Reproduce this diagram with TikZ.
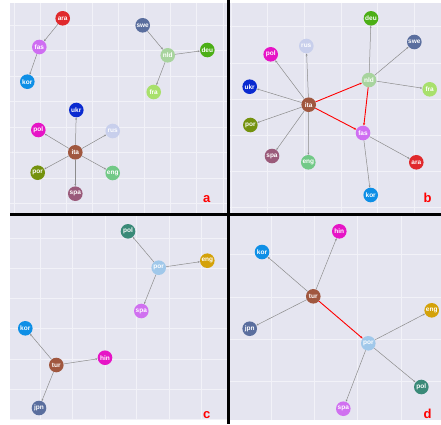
\documentclass[tikz,border=0pt]{standalone}
\usepackage{fontspec}
\setmainfont{Liberation Sans}
\usetikzlibrary{arrows.meta}
\definecolor{bgl}{HTML}{E5E5F0}
\definecolor{gridc}{HTML}{F2F2F8}
\definecolor{cara}{HTML}{E0292C}
\definecolor{cfas}{HTML}{CF6EF2}
\definecolor{ckor}{HTML}{0E8FE6}
\definecolor{cswe}{HTML}{5A6E9E}
\definecolor{cnld}{HTML}{A8D49E}
\definecolor{cdeu}{HTML}{4CAF16}
\definecolor{cfra}{HTML}{A8E06C}
\definecolor{cukr}{HTML}{0A2AD0}
\definecolor{cpol}{HTML}{E614C6}
\definecolor{crus}{HTML}{C8CFEC}
\definecolor{cita}{HTML}{A0573F}
\definecolor{cpor}{HTML}{74920E}
\definecolor{ceng}{HTML}{72C987}
\definecolor{cspa}{HTML}{9A5A7A}
\definecolor{cpolc}{HTML}{3A8A78}
\definecolor{cengc}{HTML}{D4A20A}
\definecolor{cporc}{HTML}{A0C8EA}
\definecolor{cspac}{HTML}{D070F0}
\definecolor{chin}{HTML}{E614C6}
\definecolor{ctur}{HTML}{A0573F}
\definecolor{cjpn}{HTML}{5A6E9E}
\definecolor{edgegray}{HTML}{8C8C8C}
\tikzset{
  nd/.style={circle, fill=#1, minimum size=14.6pt, inner sep=0pt, text=white,
    font=\fontsize{6.5}{6.5}\selectfont\bfseries},
  ed/.style={draw=edgegray, line width=0.5pt, -{Stealth[length=2.2pt,width=1.8pt]}},
  red/.style={draw=red, line width=0.9pt, -{Stealth[length=2.4pt,width=2pt]}},
  grd/.style={draw=gridc, line width=0.45pt},
  plabel/.style={text=red, font=\fontsize{13}{13}\selectfont\bfseries},
  bg/.style={fill=bgl, draw=none}
}
\begin{document}
\begin{tikzpicture}[x=1pt,y=-1pt]
\useasboundingbox (0,0) rectangle (441,424);
\fill[white] (0,0) rectangle (441,424);
% backgrounds
\fill[bg] (10,3) rectangle (227,213);
\fill[bg] (230,3) rectangle (441,213);
\fill[bg] (10,216) rectangle (227,420);
\fill[bg] (230,216) rectangle (441,420);
% grids panel a
\foreach \x in {14,40.1,66.2,92.3,118.4,144.5,170.6,196.7,222.8} \draw[grd] (\x,3) -- (\x,213);
\foreach \y in {25,50.5,76,101.5,127,152.5,178,203.5} \draw[grd] (10,\y) -- (227,\y);
% grids panel b
\foreach \x in {231,267.7,304.3,341,377.7,414.3} \draw[grd] (\x,3) -- (\x,213);
\foreach \y in {26.7,63.3,99.3,135,171.7,207.7} \draw[grd] (230,\y) -- (441,\y);
% grids panel c
\foreach \x in {40.7,72.7,105,136.7,169.3,201.3} \draw[grd] (\x,216) -- (\x,420);
\foreach \y in {238,268.7,298.7,328.7,359.7,389.7,419.5} \draw[grd] (10,\y) -- (227,\y);
% grids panel d
\foreach \x in {271,314.3,357.7,401} \draw[grd] (\x,216) -- (\x,420);
\foreach \y in {254.7,297,339.3,381.3} \draw[grd] (230,\y) -- (441,\y);
% separators
\draw[black, line width=2.4pt] (228.5,0) -- (228.5,424);
\draw[black, line width=2.4pt] (10,214.5) -- (441,214.5);

% ---------- panel a ----------
\node[nd=cara] (a-ara) at (62.7,18.3) {ara};
\node[nd=cfas] (a-fas) at (39.3,47) {fas};
\node[nd=ckor] (a-kor) at (27.3,81.7) {kor};
\node[nd=cswe] (a-swe) at (142.7,25.3) {swe};
\node[nd=cnld] (a-nld) at (167.7,55.3) {nld};
\node[nd=cdeu] (a-deu) at (207.3,50) {deu};
\node[nd=cfra] (a-fra) at (153.7,92) {fra};
\node[nd=cukr] (a-ukr) at (76.3,110) {ukr};
\node[nd=cpol] (a-pol) at (38.3,130) {pol};
\node[nd=crus] (a-rus) at (112.7,131) {rus};
\node[nd=cita] (a-ita) at (75.3,152.3) {ita};
\node[nd=cpor] (a-por) at (37.7,172.7) {por};
\node[nd=ceng] (a-eng) at (112.7,173) {eng};
\node[nd=cspa] (a-spa) at (75.3,193.7) {spa};
\node[plabel] (la) at (206.7,199) {a};
\draw[ed] (a-ara) -- (a-fas);
\draw[ed] (a-fas) -- (a-kor);
\draw[ed] (a-swe) -- (a-nld);
\draw[ed] (a-nld) -- (a-deu);
\draw[ed] (a-nld) -- (a-fra);
\foreach \t in {ukr,pol,rus,por,eng,spa} \draw[ed] (a-ita) -- (a-\t);

% ---------- panel b ----------
\node[nd=cdeu] (b-deu) at (371,18.3) {deu};
\node[nd=cswe] (b-swe) at (414.3,42) {swe};
\node[nd=crus] (b-rus) at (306.3,46) {rus};
\node[nd=cpol] (b-pol) at (270.7,54.3) {pol};
\node[nd=cnld] (b-nld) at (369,80) {nld};
\node[nd=cfra] (b-fra) at (429.7,89.3) {fra};
\node[nd=cukr] (b-ukr) at (249.7,86.7) {ukr};
\node[nd=cita] (b-ita) at (308.7,104.7) {ita};
\node[nd=cpor] (b-por) at (250.3,125) {por};
\node[nd=cfas] (b-fas) at (363,133) {fas};
\node[nd=cspa] (b-spa) at (272,156) {spa};
\node[nd=ceng] (b-eng) at (308.3,162.3) {eng};
\node[nd=cara] (b-ara) at (416.3,162.3) {ara};
\node[nd=ckor] (b-kor) at (370.7,195) {kor};
\node[plabel] (lb) at (427.7,198.3) {b};
\foreach \t in {rus,pol,ukr,por,spa,eng} \draw[ed] (b-ita) -- (b-\t);
\foreach \t in {deu,swe,fra} \draw[ed] (b-nld) -- (b-\t);
\foreach \t in {ara,kor} \draw[ed] (b-fas) -- (b-\t);
\draw[red] (b-ita) -- (b-nld);
\draw[red] (b-ita) -- (b-fas);
\draw[red] (b-nld) -- (b-fas);

% ---------- panel c ----------
\node[nd=cpolc] (c-pol) at (128,231.3) {pol};
\node[nd=cengc] (c-eng) at (207.3,260.7) {eng};
\node[nd=cporc] (c-por) at (158.7,267.7) {por};
\node[nd=cspac] (c-spa) at (141.3,311) {spa};
\node[nd=ckor] (c-kor) at (25.3,328.3) {kor};
\node[nd=chin] (c-hin) at (105,357.7) {hin};
\node[nd=ctur] (c-tur) at (56.3,365) {tur};
\node[nd=cjpn] (c-jpn) at (39,408) {jpn};
\node[plabel] (lc) at (206.7,415.3) {c};
\foreach \t in {pol,eng,spa} \draw[ed] (c-por) -- (c-\t);
\foreach \t in {kor,hin,jpn} \draw[ed] (c-tur) -- (c-\t);

% ---------- panel d ----------
\node[nd=chin] (d-hin) at (339.3,231.3) {hin};
\node[nd=ckor] (d-kor) at (262,252) {kor};
\node[nd=ctur] (d-tur) at (313.3,296.3) {tur};
\node[nd=cengc] (d-eng) at (431.7,310.3) {eng};
\node[nd=cjpn] (d-jpn) at (249.7,328.7) {jpn};
\node[nd=cporc] (d-por) at (368.3,343.3) {por};
\node[nd=cpolc] (d-pol) at (421.3,387) {pol};
\node[nd=cspac] (d-spa) at (343.3,408.7) {spa};
\node[plabel] (ld) at (427.7,414.3) {d};
\foreach \t in {hin,kor,jpn} \draw[ed] (d-tur) -- (d-\t);
\foreach \t in {eng,pol,spa} \draw[ed] (d-por) -- (d-\t);
\draw[red] (d-tur) -- (d-por);
\end{tikzpicture}
\end{document}
